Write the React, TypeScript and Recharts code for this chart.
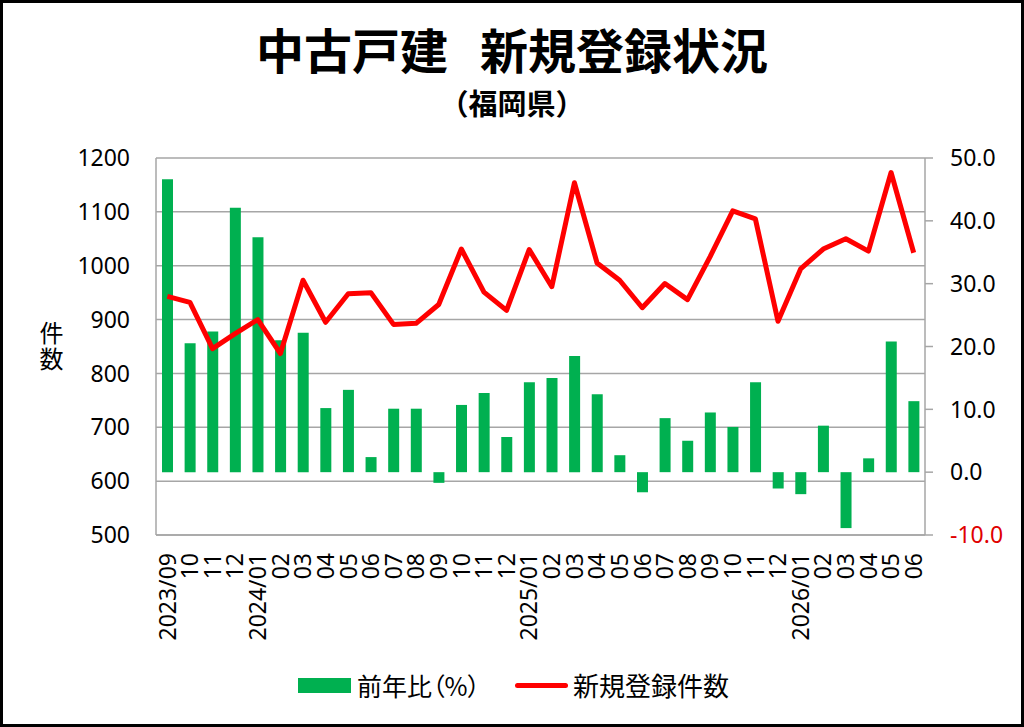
import React from 'react';
import {
  ComposedChart, Bar, Line, XAxis, YAxis, CartesianGrid,
} from 'recharts';

const months = [
  '2023/09', '10', '11', '12',
  '2024/01', '02', '03', '04', '05', '06', '07', '08', '09', '10', '11', '12',
  '2025/01', '02', '03', '04', '05', '06', '07', '08', '09', '10', '11', '12',
  '2026/01', '02', '03', '04', '05', '06',
];

// 前年比（%）— right axis
const yoyPercent = [
  46.6, 20.5, 22.4, 42.1,
  37.4, 21.0, 22.2, 10.2, 13.1, 2.4, 10.1, 10.1, -1.7, 10.7, 12.6, 5.6,
  14.3, 15.0, 18.5, 12.4, 2.7, -3.2, 8.6, 5.0, 9.5, 7.2, 14.3, -2.6,
  -3.5, 7.4, -8.9, 2.2, 20.8, 11.3,
];

// 新規登録件数 — left axis
const newListings = [
  943, 932, 846, 874,
  900, 837, 973, 895, 948, 950, 891, 893, 928, 1031, 951, 917,
  1030, 961, 1154, 1005, 973, 922, 967, 937, 1017, 1102, 1087, 897,
  994, 1031, 1050, 1027, 1173, 1024,
];

const leftTicks = [500, 600, 700, 800, 900, 1000, 1100, 1200];
const rightTicks = [-10, 0, 10, 20, 30, 40, 50];

const GREEN = '#00b050';
const RED = '#ff0000';
const GRID = '#a6a6a6';
const NUM_FONT = "'Noto Sans', 'Noto Sans CJK JP', sans-serif";
const JP_FONT = "'Noto Sans CJK JP', 'Noto Sans', sans-serif";

const data = months.map((m, i) => ({
  month: m,
  yoy: yoyPercent[i],
  count: newListings[i],
}));

function MonthTick({ x, y, payload }: { x?: number; y?: number; payload?: { value: string } }) {
  const ty = (y ?? 0) + 10;
  return (
    <text
      x={x}
      y={ty}
      transform={`rotate(-90, ${x}, ${ty})`}
      textAnchor="end"
      dy="0.36em"
      fontSize={23}
      fontFamily={NUM_FONT}
      fill="#000"
    >
      {payload?.value}
    </text>
  );
}

function RightTick({ x, y, payload }: { x?: number; y?: number; payload?: { value: number } }) {
  const v = payload?.value ?? 0;
  return (
    <text
      x={x}
      y={y}
      dy="0.36em"
      textAnchor="start"
      fontSize={23}
      fontFamily={NUM_FONT}
      fill={v < 0 ? '#e00000' : '#000'}
    >
      {v.toFixed(1)}
    </text>
  );
}

export default function App() {
  return (
    <div
      style={{
        position: 'absolute', left: 0, top: 0, width: 1024, height: 727,
        background: '#fff', fontFamily: JP_FONT, color: '#000',
      }}
    >
      <div
        style={{
          position: 'absolute', left: 0, top: 24, width: 1024, textAlign: 'center',
          fontSize: 48, lineHeight: '48px', fontWeight: 700, whiteSpace: 'nowrap',
        }}
      >
        中古戸建<span style={{ marginLeft: 32 }}>新規登録状況</span>
      </div>
      <div
        style={{
          position: 'absolute', left: 0, top: 88, width: 1024, textAlign: 'center',
          fontSize: 29, lineHeight: '29px', fontWeight: 700,
        }}
      >
        （福岡県）
      </div>
      <div
        style={{
          position: 'absolute', left: 39, top: 321, width: 24, fontSize: 24, lineHeight: '24px',
          writingMode: 'vertical-rl', letterSpacing: 2,
        }}
      >
        件数
      </div>

      <ComposedChart
        width={1024}
        height={727}
        data={data}
        margin={{ top: 158, right: 29, bottom: 0, left: 26 }}
      >
        <CartesianGrid yAxisId="left" vertical={false} stroke={GRID} strokeWidth={1.5} />
        <XAxis
          dataKey="month"
          interval={0}
          height={192}
          tickLine={false}
          axisLine={{ stroke: GRID, strokeWidth: 1.5 }}
          tick={<MonthTick />}
        />
        <YAxis
          yAxisId="left"
          width={130}
          domain={[500, 1200]}
          ticks={leftTicks}
          tickLine={false}
          tickSize={0}
          tickMargin={26}
          axisLine={{ stroke: GRID, strokeWidth: 1.5 }}
          tick={{ fontSize: 23, fill: '#000', fontFamily: NUM_FONT }}
        />
        <YAxis
          yAxisId="right"
          orientation="right"
          width={70}
          domain={[-10, 50]}
          ticks={rightTicks}
          tickSize={8}
          tickMargin={17}
          tickLine={{ stroke: GRID, strokeWidth: 1.5 }}
          axisLine={{ stroke: GRID, strokeWidth: 1.5 }}
          tick={<RightTick />}
        />
        <Bar
          yAxisId="right"
          dataKey="yoy"
          name="前年比（%）"
          fill={GREEN}
          barSize={11}
          isAnimationActive={false}
        />
        <Line
          yAxisId="left"
          dataKey="count"
          name="新規登録件数"
          type="linear"
          stroke={RED}
          strokeWidth={5}
          strokeLinejoin="round"
          dot={false}
          activeDot={false}
          isAnimationActive={false}
        />
      </ComposedChart>

      {/* legend */}
      <div style={{ position: 'absolute', left: 298, top: 678, width: 53, height: 15, background: GREEN }} />
      <div
        style={{
          position: 'absolute', left: 357, top: 670, fontSize: 25, lineHeight: '30px',
          fontFeatureSettings: '"palt"', whiteSpace: 'nowrap',
        }}
      >
        前年比（%）
      </div>
      <div style={{ position: 'absolute', left: 515, top: 683, width: 53, height: 5, borderRadius: 3, background: RED }} />
      <div
        style={{
          position: 'absolute', left: 573, top: 670, fontSize: 26, lineHeight: '30px', whiteSpace: 'nowrap',
        }}
      >
        新規登録件数
      </div>

      {/* outer frame */}
      <div
        style={{
          position: 'absolute', left: 0, top: 0, width: 1024, height: 727,
          border: '3px solid #000', boxSizing: 'border-box', pointerEvents: 'none',
        }}
      />
    </div>
  );
}
